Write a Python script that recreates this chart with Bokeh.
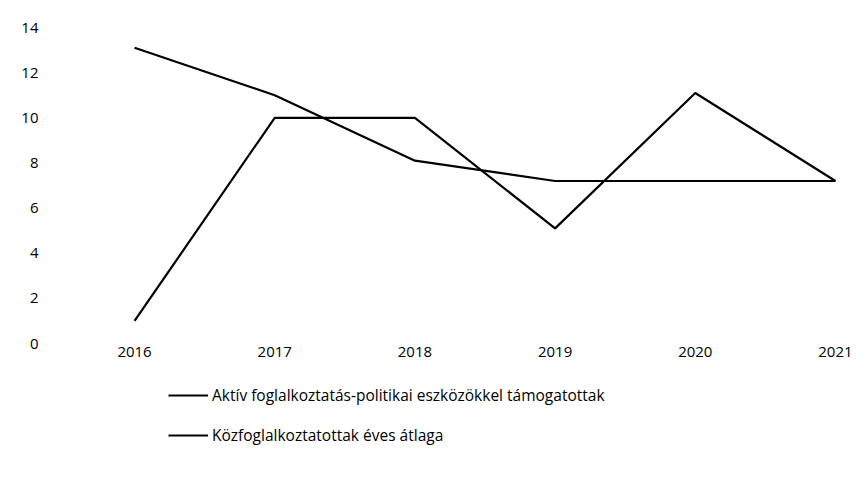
from bokeh.plotting import figure
from bokeh.models import Range1d, Legend, LegendItem, FixedTicker
from bokeh.embed import file_html
from bokeh.resources import INLINE

years = [2016, 2017, 2018, 2019, 2020, 2021]
aktiv = [1.0, 10.0, 10.0, 5.1, 11.1, 7.2]
kozfog = [13.1, 11.0, 8.1, 7.2, 7.2, 7.2]
y_ticks = [0, 2, 4, 6, 8, 10, 12, 14]
labels = ["Aktív foglalkoztatás-politikai eszközökkel támogatottak",
          "Közfoglalkoztatottak éves átlaga"]

FONT = "Open Sans"

# frame: 14 units over 316 px; extended below 0 to host the legend
PX_PER_UNIT = 316 / 14
H, TOP, BOT = 470, 27, 5
ymin = 14 - (H - TOP - BOT) / PX_PER_UNIT

p = figure(width=863, height=H, output_backend="svg", toolbar_location=None,
           x_range=Range1d(2015.7, 2021.2), y_range=Range1d(ymin, 14),
           min_border_left=92, min_border_right=0, min_border_top=TOP,
           min_border_bottom=BOT)
p.outline_line_color = None
p.xgrid.visible = False
p.ygrid.visible = False

r1 = p.line(years, aktiv, line_color="black", line_width=2.2)
r2 = p.line(years, kozfog, line_color="black", line_width=2.2)

p.xaxis.ticker = FixedTicker(ticks=years)
p.yaxis.ticker = FixedTicker(ticks=y_ticks)
p.xaxis.fixed_location = 0
for ax in (p.xaxis, p.yaxis):
    ax.axis_line_color = None
    ax.major_tick_line_color = None
    ax.minor_tick_line_color = None
    ax.major_tick_out = 0
    ax.major_tick_in = 0
    ax.major_label_text_font = FONT
    ax.major_label_text_font_size = "15px"
    ax.major_label_text_color = "black"
p.xaxis.major_label_standoff = 3
p.yaxis.major_label_standoff = 54

legend = Legend(items=[LegendItem(label=labels[0], renderers=[r1]),
                       LegendItem(label=labels[1], renderers=[r2])],
                location=(76, 19), orientation="vertical",
                glyph_width=40, glyph_height=20, label_height=20,
                label_standoff=4, spacing=18, padding=0, margin=0,
                border_line_color=None, background_fill_alpha=0,
                label_text_font=FONT, label_text_font_size="15.5px",
                label_text_color="black")
p.add_layout(legend)

open("out.html", "w").write(file_html(p, INLINE))
